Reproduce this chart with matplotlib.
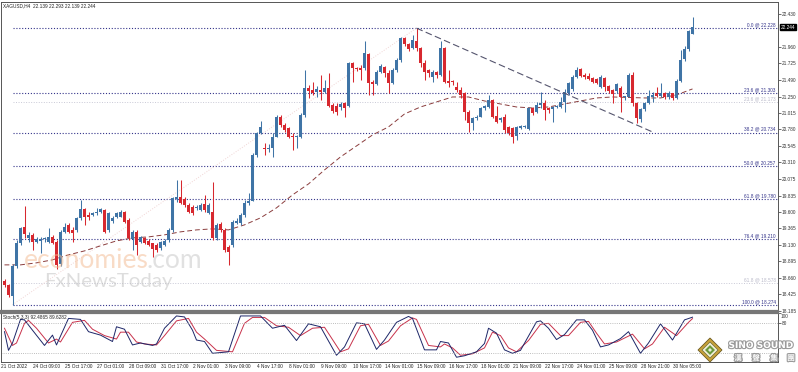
import numpy as np
import matplotlib.pyplot as plt
from matplotlib.patches import Polygon
import matplotlib.patheffects as pe
import matplotlib.transforms as mtransforms

# XAGUSD H4 candles (bar 0 = 21 Oct 01:00)
opens = [18.616, 18.554, 18.400, 18.830, 19.163, 19.392, 19.225, 19.273, 19.178, 19.192,
         19.211, 19.178, 19.240, 19.178, 18.859, 19.320, 19.416, 19.344, 19.344, 19.511,
         19.640, 19.559, 19.559, 19.582, 19.597, 19.630, 19.344, 19.470, 19.535, 19.535,
         19.606, 19.487, 19.211, 19.320, 19.178, 19.225, 19.192, 19.154, 19.130, 19.082,
         19.130, 19.201, 19.344, 19.782, 19.821, 19.782, 19.701, 19.668, 19.654, 19.630,
         19.716, 19.582, 19.600, 19.225, 19.430, 19.344, 19.106, 19.130, 19.449, 19.440,
         19.559, 19.725, 19.764, 20.415, 20.734, 20.520, 20.500, 20.511, 20.677, 20.963,
         20.844, 20.796, 20.680, 20.668, 20.668, 20.987, 21.368, 21.344, 21.320, 21.344,
         21.320, 21.368, 21.130, 21.115, 21.096, 21.154, 21.115, 21.725, 21.654, 21.654,
         21.654, 21.858, 21.463, 21.430, 21.606, 21.668, 21.582, 21.449, 21.630, 21.773,
         22.082, 22.001, 21.939, 22.049, 21.939, 21.734, 21.630, 21.535, 21.606, 21.558,
         21.939, 21.477, 21.463, 21.392, 21.344, 21.296, 21.034, 20.868, 20.939, 20.963,
         21.082, 21.096, 21.201, 20.973, 20.915, 20.963, 20.811, 20.796, 20.687, 20.796,
         20.811, 20.782, 21.082, 21.034, 21.130, 21.154, 21.082, 21.068, 21.106, 21.096,
         21.177, 21.306, 21.353, 21.525, 21.639, 21.558, 21.544, 21.511, 21.496, 21.392,
         21.511, 21.401, 21.344, 21.334, 21.368, 21.239, 21.249, 21.558, 21.154, 20.925,
         21.068, 21.154, 21.239, 21.306, 21.258, 21.296, 21.239, 21.296, 21.225, 21.477,
         21.783, 21.926, 22.139]
highs = [18.640, 18.570, 18.860, 19.201, 19.392, 19.690, 19.320, 19.297, 19.249, 19.249,
         19.240, 19.368, 19.273, 19.201, 19.344, 19.440, 19.449, 19.392, 19.535, 19.773,
         19.654, 19.606, 19.606, 19.654, 19.654, 19.640, 19.606, 19.540, 19.606, 19.630,
         19.620, 19.511, 19.344, 19.344, 19.259, 19.249, 19.211, 19.163, 19.154, 19.192,
         19.211, 19.368, 19.821, 20.059, 20.059, 19.811, 19.725, 19.701, 19.701, 19.725,
         19.844, 19.725, 20.030, 19.440, 19.463, 19.368, 19.130, 19.487, 19.511, 19.582,
         19.773, 19.868, 20.440, 20.749, 20.906, 20.580, 20.570, 20.725, 20.987, 20.987,
         20.868, 20.820, 20.725, 20.701, 21.011, 21.630, 21.415, 21.463, 21.401, 21.558,
         21.487, 21.582, 21.154, 21.154, 21.177, 21.177, 21.749, 21.749, 21.677, 21.701,
         22.049, 21.877, 21.487, 21.630, 21.715, 21.687, 21.630, 21.654, 21.796, 22.096,
         22.106, 22.020, 22.130, 22.228, 21.954, 21.773, 21.639, 21.630, 21.620, 22.049,
         21.963, 21.630, 21.487, 21.463, 21.392, 21.320, 21.058, 20.963, 20.987, 21.106,
         21.130, 21.273, 21.211, 21.115, 20.963, 21.001, 20.830, 20.811, 20.830, 20.844,
         20.844, 21.106, 21.106, 21.177, 21.320, 21.201, 21.096, 21.115, 21.130, 21.249,
         21.353, 21.463, 21.558, 21.668, 21.654, 21.580, 21.582, 21.530, 21.510, 21.558,
         21.525, 21.420, 21.360, 21.449, 21.400, 21.260, 21.582, 21.606, 21.177, 21.082,
         21.177, 21.344, 21.320, 21.392, 21.439, 21.320, 21.334, 21.300, 21.500, 21.916,
         21.970, 22.200, 22.390]
lows = [18.525, 18.383, 18.274, 18.800, 19.130, 19.225, 19.178, 19.059, 19.154, 19.011,
        19.178, 19.154, 19.144, 18.782, 18.830, 19.297, 19.297, 19.178, 19.320, 19.487,
        19.416, 19.487, 19.544, 19.559, 19.582, 19.297, 19.320, 19.440, 19.511, 19.525,
        19.449, 19.201, 19.059, 18.987, 19.154, 19.144, 19.116, 18.963, 19.035, 19.059,
        19.116, 19.178, 19.320, 19.749, 19.716, 19.678, 19.582, 19.559, 19.630, 19.620,
        19.606, 19.573, 19.201, 19.201, 19.320, 19.035, 18.844, 19.106, 19.430, 19.416,
        19.535, 19.701, 19.750, 20.392, 20.715, 20.415, 20.460, 20.392, 20.668, 20.820,
        20.749, 20.654, 20.487, 20.511, 20.654, 20.963, 21.225, 21.273, 21.239, 21.201,
        21.296, 21.096, 21.011, 20.987, 21.058, 20.954, 21.096, 21.463, 21.620, 21.487,
        21.630, 21.273, 21.273, 21.415, 21.582, 21.535, 21.296, 21.430, 21.606, 21.749,
        21.973, 21.906, 21.925, 21.906, 21.677, 21.487, 21.535, 21.463, 21.511, 21.544,
        21.439, 21.392, 21.415, 21.320, 21.225, 20.915, 20.749, 20.773, 20.915, 20.954,
        21.058, 21.082, 20.939, 20.868, 20.892, 20.725, 20.701, 20.582, 20.630, 20.782,
        20.796, 20.773, 20.987, 21.011, 21.082, 20.915, 21.011, 20.892, 21.082, 21.082,
        21.034, 21.273, 21.334, 21.511, 21.525, 21.500, 21.487, 21.440, 21.430, 21.368,
        21.334, 21.296, 21.154, 21.306, 21.034, 21.200, 21.239, 21.115, 20.868, 20.892,
        21.050, 21.140, 21.177, 21.240, 21.240, 21.211, 21.220, 21.201, 21.215, 21.460,
        21.760, 21.900, 22.139]
closes = [18.554, 18.416, 18.830, 19.163, 19.368, 19.287, 19.273, 19.178, 19.211, 19.220,
          19.215, 19.249, 19.163, 18.844, 19.320, 19.392, 19.320, 19.297, 19.511, 19.640,
          19.535, 19.525, 19.582, 19.606, 19.640, 19.320, 19.582, 19.511, 19.582, 19.606,
          19.463, 19.225, 19.320, 19.130, 19.240, 19.163, 19.130, 19.068, 19.059, 19.168,
          19.192, 19.344, 19.797, 19.821, 19.735, 19.701, 19.606, 19.582, 19.668, 19.701,
          19.630, 19.701, 19.225, 19.416, 19.344, 19.059, 19.035, 19.463, 19.478, 19.559,
          19.735, 19.764, 20.415, 20.725, 20.811, 20.505, 20.520, 20.677, 20.953, 20.844,
          20.773, 20.677, 20.670, 20.680, 20.987, 21.368, 21.334, 21.306, 21.353, 21.320,
          21.368, 21.115, 21.049, 21.034, 21.144, 21.082, 21.725, 21.654, 21.639, 21.630,
          21.868, 21.439, 21.430, 21.606, 21.687, 21.582, 21.439, 21.630, 21.773, 22.082,
          22.001, 21.925, 22.058, 21.939, 21.734, 21.606, 21.582, 21.606, 21.558, 21.939,
          21.463, 21.439, 21.458, 21.344, 21.273, 21.034, 20.868, 20.939, 20.963, 21.082,
          21.115, 21.201, 20.963, 20.892, 20.939, 20.773, 20.734, 20.677, 20.811, 20.830,
          20.830, 21.082, 21.011, 21.130, 21.154, 21.058, 21.058, 21.106, 21.115, 21.177,
          21.320, 21.439, 21.525, 21.630, 21.544, 21.525, 21.496, 21.458, 21.449, 21.525,
          21.392, 21.334, 21.287, 21.430, 21.239, 21.260, 21.558, 21.154, 20.939, 21.068,
          21.163, 21.258, 21.273, 21.258, 21.296, 21.239, 21.296, 21.225, 21.477, 21.773,
          21.926, 22.190, 22.244]

# moving average (dashed), read every 4 bars
ma_idx = list(range(0, 173, 4))
ma_val = [18.844, 18.844, 18.873, 18.916, 18.987, 19.044, 19.116, 19.187, 19.230, 19.244,
          19.273, 19.316, 19.344, 19.359, 19.344, 19.416, 19.516, 19.659, 19.844, 20.001,
          20.201, 20.387, 20.544, 20.701, 20.816, 21.001, 21.101, 21.173, 21.244, 21.244,
          21.187, 21.144, 21.101, 21.087, 21.101, 21.144, 21.187, 21.230, 21.244, 21.237,
          21.230, 21.230, 21.273, 21.359]

# stochastic (5,3,3) turning points
k_idx = [0, 1, 2, 4, 5, 7, 10, 12, 13, 16, 19, 21, 24, 27, 28, 30, 32, 34, 37, 38,
         40, 43, 45, 47, 48, 50, 52, 56, 59, 64, 67, 70, 73, 76, 79, 83, 85, 88, 90, 93,
         95, 98, 101, 102, 105, 108, 109, 111, 113, 115, 118, 120, 121, 123, 125, 127, 129, 133, 134, 136,
         138, 140, 143, 145, 147, 149, 151, 154, 156, 159, 161, 164, 167, 170, 172]
k_val = [63, 25, 40, 88, 87, 66, 35, 56, 36, 90, 88, 63, 56, 43, 73, 68, 36, 40, 35, 38,
         70, 95, 93, 66, 46, 43, 19, 22, 95, 95, 70, 76, 45, 79, 73, 15, 32, 81, 79, 27,
         46, 82, 94, 90, 26, 26, 43, 40, 11, 14, 22, 39, 70, 60, 26, 19, 25, 83, 85, 70,
         47, 57, 87, 87, 66, 32, 36, 49, 63, 19, 40, 79, 46, 87, 92.5]
d_idx = [0, 2, 3, 5, 6, 8, 11, 13, 14, 17, 20, 22, 25, 28, 29, 31, 33, 35, 38, 40,
         43, 46, 48, 50, 53, 57, 60, 62, 65, 68, 71, 74, 77, 80, 84, 86, 89, 91, 94, 96,
         99, 102, 103, 106, 109, 110, 112, 114, 117, 120, 122, 124, 126, 128, 131, 134, 136, 139, 141, 144,
         146, 148, 150, 153, 157, 160, 162, 165, 168, 171, 172]
d_val = [70, 35, 40, 80, 86, 70, 40, 48, 42, 82, 86, 68, 55, 48, 62, 62, 42, 38, 36, 55,
         85, 90, 62, 48, 25, 22, 80, 92, 92, 75, 72, 55, 70, 72, 22, 28, 75, 78, 35, 44,
         75, 91, 88, 35, 32, 38, 30, 15, 18, 30, 62, 55, 30, 22, 45, 78, 80, 55, 55, 82,
         84, 60, 38, 42, 58, 28, 38, 72, 55, 82, 89.6]

# fibonacci levels
fib_names = ["0.0", "23.6", "38.2", "50.0", "61.8", "76.4", "100.0"]
fib_prices = [22.228, 21.303, 20.734, 20.257, 19.780, 19.210, 18.274]
fib_faint_names = ["23.6", "61.8"]
fib_faint_prices = [21.173, 18.578]

price_ticks = [22.430, 21.960, 21.725, 21.490, 21.250, 21.015, 20.780, 20.545, 20.310,
               20.075, 19.835, 19.600, 19.365, 19.130, 18.895, 18.660, 18.425, 18.185]

time_labels = ["21 Oct 2022", "24 Oct 09:00", "25 Oct 17:00", "27 Oct 01:00", "28 Oct 09:00",
               "31 Oct 17:00", "2 Nov 01:00", "3 Nov 09:00", "4 Nov 17:00", "8 Nov 01:00",
               "9 Nov 09:00", "10 Nov 17:00", "14 Nov 01:00", "15 Nov 09:00", "16 Nov 17:00",
               "18 Nov 01:00", "21 Nov 09:00", "22 Nov 17:00", "24 Nov 01:00", "25 Nov 09:00",
               "28 Nov 21:00", "30 Nov 05:00"]

bull = "#3f74a6"
bear = "#d7282f"
fib_col = "#34348a"
small = dict(family="Liberation Sans", fontsize=3.4)

W, H = 798, 372
fig = plt.figure(figsize=(W / 100, H / 100), dpi=100)
fig.patch.set_facecolor("white")

ax = fig.add_axes([1 / W, (H - 311) / H, 776.5 / W, 309 / H])
st = fig.add_axes([1 / W, (H - 362) / H, 776.5 / W, 49 / H])

x_left, x_right = -0.875, 193.25
ax.set_xlim(x_left, x_right)
ax.set_ylim(18.1847, 22.6015)
st.set_xlim(x_left, x_right)
st.set_ylim(1.3, 101)

# candles
o = np.array(opens)
c = np.array(closes)
hi = np.array(highs)
lo = np.array(lows)
idx = np.arange(len(o))
up = c >= o
cols = np.where(up, bull, bear)
ax.vlines(idx, lo, hi, colors=cols, lw=0.75, zorder=3)
body = np.maximum(np.abs(c - o), 0.012)
ax.bar(idx, body, bottom=np.minimum(o, c), width=0.72, color=cols, lw=0, zorder=4)

# moving average
ax.plot(ma_idx, ma_val, color="#8a3c3c", lw=0.7, ls=(0, (5, 3)), zorder=2)

# fib retracement
fib_start = 2
for name, p in zip(fib_names, fib_prices):
    ax.plot([fib_start, x_right], [p, p], color=fib_col, lw=0.8, ls=(0, (1, 1.6)), zorder=1)
    ax.text(192.8, p + 0.012, f"{name} @ {p:.3f}", color=fib_col, ha="right", va="bottom",
            zorder=5, **small)
for name, p in zip(fib_faint_names, fib_faint_prices):
    ax.plot([fib_start, x_right], [p, p], color="#c9c9d6", lw=0.7, ls=(0, (1, 1.6)), zorder=1)
    ax.text(192.8, p + 0.012, f"{name} @ {p:.3f}", color="#b9b9c9", ha="right", va="bottom",
            zorder=5, **small)
ax.plot([fib_start, 103], [fib_prices[-1], fib_prices[0]], color="#f0d4d4",
        lw=0.7, ls=(0, (1, 1.6)), zorder=1)

# trend line
ax.plot([103, 162], [22.228, 20.744], color="#55556e", lw=0.8, ls=(0, (6, 3)), zorder=5)

# right price axis
ax.yaxis.tick_right()
ax.set_yticks(price_ticks)
ax.set_yticklabels([f"{t:.3f}" for t in price_ticks], family="Liberation Sans")
ax.tick_params(axis="y", labelsize=3.4, length=2, pad=0.8, width=0.5, colors="#333333")
ax.set_xticks([])
for s in ax.spines.values():
    s.set_color("#555555")
    s.set_linewidth(0.7)
ax.spines["bottom"].set_linewidth(1.6)
ax.spines["bottom"].set_color("#777777")

ax.text(0.003, 0.997, "XAGUSD,H4  22.139 22.293 22.139 22.244", transform=ax.transAxes,
        ha="left", va="top", color="#222222", **small)

# current price box
ax.text(1.004, 22.244, "22.244",
        transform=mtransforms.blended_transform_factory(ax.transAxes, ax.transData),
        color="white", ha="left", va="center", zorder=10, clip_on=False,
        bbox=dict(boxstyle="square,pad=0.2", fc="black", ec="black"), **small)

# stochastic
st.plot(d_idx, d_val, color="#c8324b", lw=0.7)
st.plot(k_idx, k_val, color="#1d2668", lw=0.7)
for lvl in (80, 20):
    st.axhline(lvl, color="#a8a8a8", lw=0.6, ls=(0, (1, 1.6)))
st.yaxis.tick_right()
st.set_yticks([100, 80])
st.set_yticklabels(["", "80"], family="Liberation Sans")
st.tick_params(axis="y", labelsize=3.4, length=2, pad=0.8, width=0.5, colors="#333333")
st.text(1.0045, 94, "100", transform=mtransforms.blended_transform_factory(st.transAxes, st.transData),
        ha="left", va="center", color="#333333", clip_on=False, **small)
st.set_xticks([])
for s in st.spines.values():
    s.set_color("#555555")
    s.set_linewidth(0.7)
st.spines["top"].set_linewidth(1.6)
st.spines["top"].set_color("#777777")
st.text(0.003, 0.96, "Stoch(5,3,3) 92.4865 89.6282", transform=st.transAxes,
        ha="left", va="top", color="#222222", **small)

tr = mtransforms.blended_transform_factory(st.transData, st.transAxes)
for k, lab in enumerate(time_labels):
    st.text(8 * k - 0.9, -0.09, lab, transform=tr, ha="left",
            va="center", color="#222222", clip_on=False, **small)

# overlay for watermark and logo, in pixel coordinates
ov = fig.add_axes([0, 0, 1, 1], zorder=20)
ov.set_xlim(0, W)
ov.set_ylim(H, 0)
ov.axis("off")
ov.patch.set_alpha(0)

ov.text(24, 261, "economies", fontsize=19, family="Lato", color="#f3b98f",
        alpha=0.5, ha="left", va="center")
ov.text(147, 261, ".com", fontsize=19, family="Lato", color="#c4c4c4",
        alpha=0.5, ha="left", va="center")
ov.text(44, 281, "FxNewsToday", fontsize=14.7, family="Lato", color="#bdbdbd",
        alpha=0.5, ha="left", va="center")

cx, cy = 710, 350
ov.add_patch(Polygon([(cx, cy - 12), (cx + 12, cy), (cx, cy + 12), (cx - 12, cy)],
                     closed=True, fc="#c9a23a", ec="#6b5a1e", lw=0.6))
ov.add_patch(Polygon([(cx, cy - 8), (cx + 8, cy), (cx, cy + 8), (cx - 8, cy)],
                     closed=True, fc="#f2f0d8", ec="#6b6b3a", lw=0.5))
ov.add_patch(Polygon([(cx, cy - 5), (cx + 5, cy), (cx, cy + 5), (cx - 5, cy)],
                     closed=True, fc="#6a9a3c", ec="none"))
ov.add_patch(Polygon([(cx, cy - 2), (cx + 2, cy), (cx, cy + 2), (cx - 2, cy)],
                     closed=True, fc="#e8efd8", ec="none"))

shadow = [pe.withStroke(linewidth=1.6, foreground="#9a9a9a")]
ov.text(761, 345.5, "SINO SOUND", fontsize=6.5, weight="bold", color="white",
        ha="center", va="center", path_effects=shadow)
for ch, xx in zip("漢聲集團", (738, 756, 774, 791)):
    ov.text(xx, 358, ch, fontsize=5.5, family=["Noto Sans CJK TC", "DejaVu Sans"],
            weight="bold", color="white", ha="center", va="center", path_effects=shadow)

fig.savefig("out.png", dpi=100)
